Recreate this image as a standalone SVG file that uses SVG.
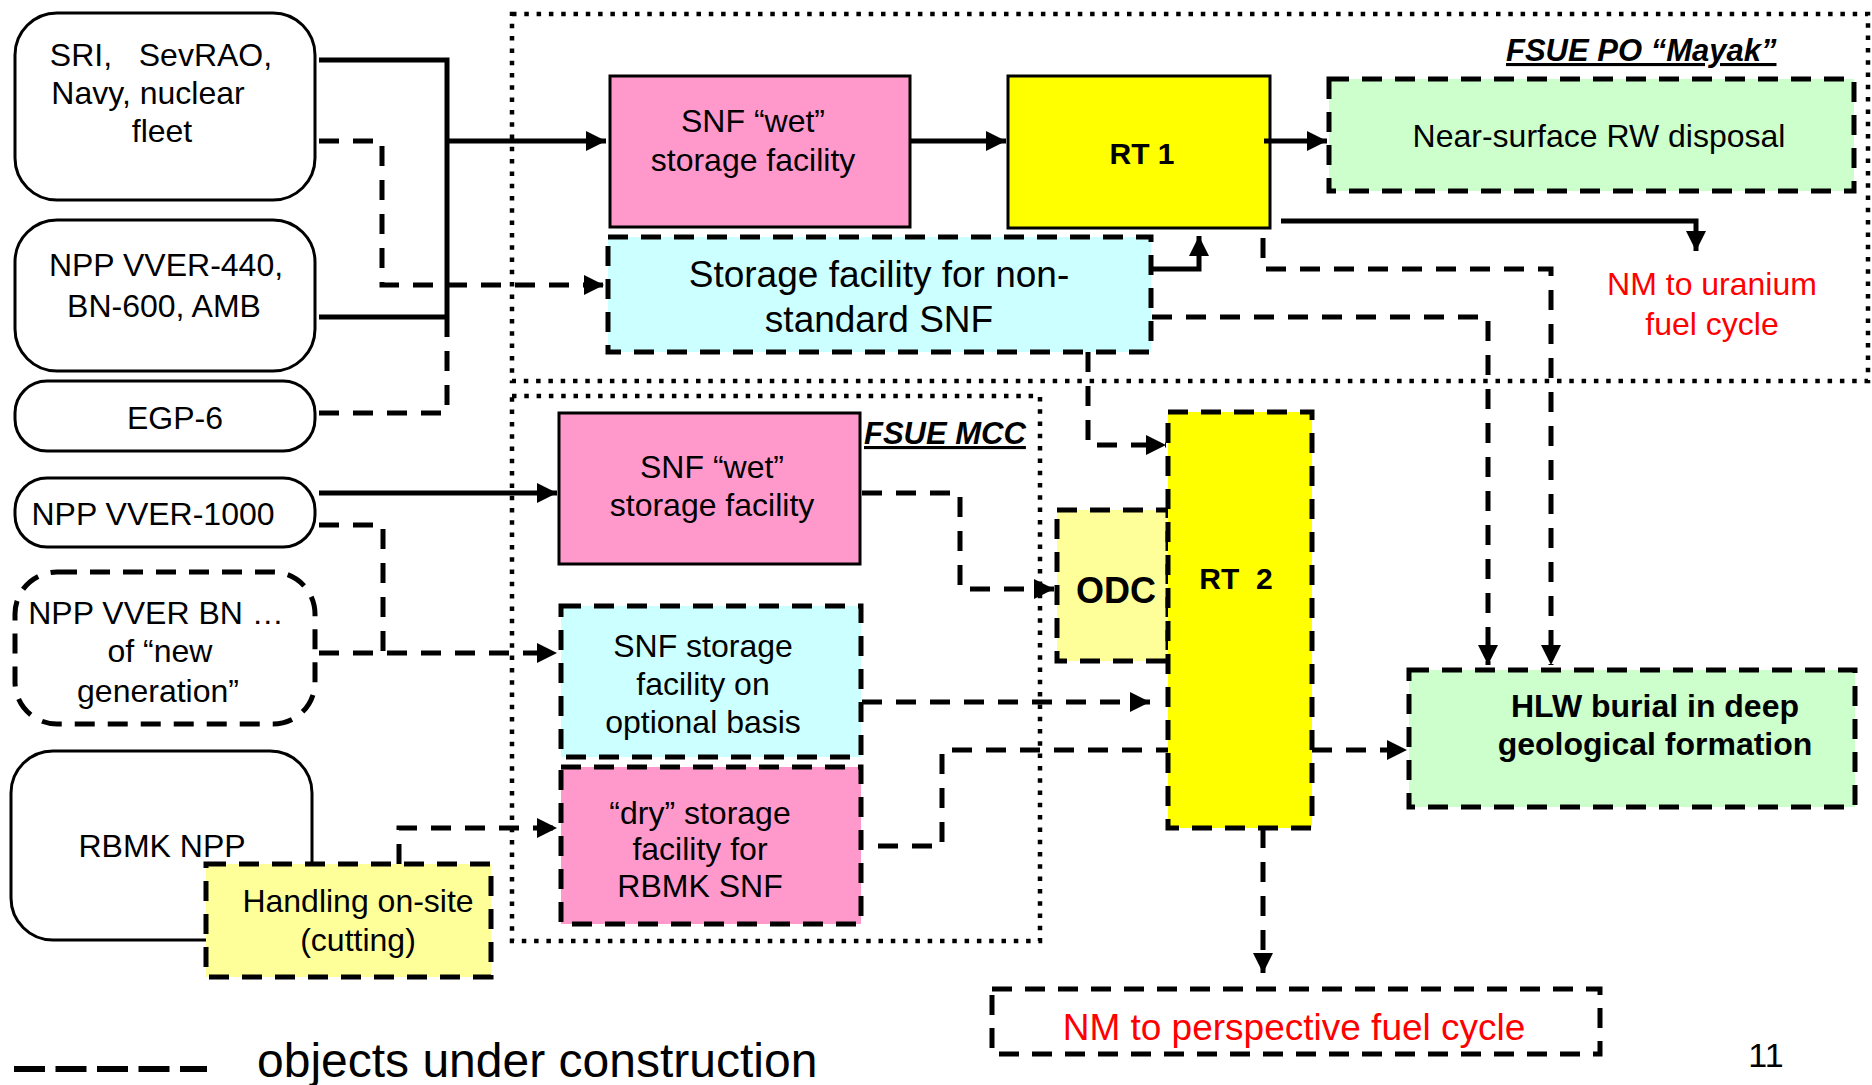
<svg xmlns="http://www.w3.org/2000/svg" width="1872" height="1085" viewBox="0 0 1872 1085">
<defs>
<marker id="ah" viewBox="0 0 10 10" refX="10" refY="5" markerWidth="4.4" markerHeight="4" markerUnits="strokeWidth" orient="auto">
<path d="M0,0 L10,5 L0,10 z" fill="#000"/>
</marker>
<style>
text{font-family:"Liberation Sans",Arial,sans-serif;font-size:32px;fill:#000;text-anchor:middle}
.b{font-weight:bold}
.red{fill:#FF0000}
.src{fill:#fff;stroke:#000;stroke-width:3}
.srcd{fill:#fff;stroke:#000;stroke-width:5;stroke-dasharray:20 13}
.solid{stroke:#000;stroke-width:3}
.dash{stroke:#000;stroke-width:5;stroke-dasharray:20 13}
.dot{fill:none;stroke:#000;stroke-width:4.5;stroke-dasharray:4.5 7.8}
.ln{fill:none;stroke:#000;stroke-width:5}
.dl{fill:none;stroke:#000;stroke-width:5;stroke-dasharray:20 14}
</style>
</defs>

<g id="mayak-zone">
<rect class="dot" x="512" y="14" width="1356" height="367"/>
<text class="b" x="1506" y="61" style="text-anchor:start;font-style:italic;font-size:31px" text-decoration="underline">FSUE PO “Mayak”</text>
</g>
<g id="mcc-zone">
<rect class="dot" x="512" y="396" width="528" height="545"/>
<text class="b" x="864" y="444" style="text-anchor:start;font-style:italic;font-size:31px" text-decoration="underline">FSUE MCC</text>
</g>

<g id="sri">
<rect class="src" x="15" y="13" width="300" height="187" rx="42"/>
<text x="161" y="66" xml:space="preserve">SRI,   SevRAO,</text>
<text x="148" y="104">Navy, nuclear</text>
<text x="162" y="142">fleet</text>
</g>
<g id="vver440">
<rect class="src" x="15" y="220" width="300" height="151" rx="42"/>
<text x="166" y="276">NPP VVER-440,</text>
<text x="164" y="317">BN-600, AMB</text>
</g>
<g id="egp6">
<rect class="src" x="15" y="381" width="300" height="70" rx="32"/>
<text x="175" y="429">EGP-6</text>
</g>
<g id="vver1000">
<rect class="src" x="15" y="478" width="300" height="69" rx="32"/>
<text x="153" y="525">NPP VVER-1000</text>
</g>
<g id="newgen">
<rect class="srcd" x="15" y="572" width="300" height="152" rx="42"/>
<text x="156" y="624">NPP VVER BN …</text>
<text x="160" y="662">of “new</text>
<text x="158" y="702">generation”</text>
</g>
<g id="rbmk">
<rect class="src" x="11" y="751" width="301" height="189" rx="42"/>
<text x="162" y="857">RBMK NPP</text>
</g>
<g id="handling">
<rect class="dash" x="206" y="864" width="285" height="113" fill="#FFFF99"/>
<text x="358" y="912">Handling on-site</text>
<text x="358" y="951">(cutting)</text>
</g>

<g id="mayak-wet">
<rect class="solid" x="610" y="76" width="300" height="151" fill="#FF99CC"/>
<text x="753" y="132">SNF “wet”</text>
<text x="753" y="171">storage facility</text>
</g>
<g id="nonstandard">
<rect class="dash" x="608" y="237" width="543" height="115" fill="#CCFFFF"/>
<text x="879" y="287" style="font-size:37px">Storage facility for non-</text>
<text x="879" y="332" style="font-size:37px">standard SNF</text>
</g>
<g id="rt1">
<rect class="solid" x="1008" y="76" width="262" height="152" fill="#FFFF00"/>
<text class="b" x="1142" y="164" style="font-size:30px">RT 1</text>
</g>
<g id="nearsurface">
<rect class="dash" x="1329" y="79" width="525" height="112" fill="#CCFFCC"/>
<text x="1599" y="147">Near-surface RW disposal</text>
</g>
<g id="nm-uranium">
<text class="red" x="1712" y="295">NM to uranium</text>
<text class="red" x="1712" y="335">fuel cycle</text>
</g>

<g id="mcc-wet">
<rect class="solid" x="559" y="413" width="301" height="151" fill="#FF99CC"/>
<text x="712" y="478">SNF “wet”</text>
<text x="712" y="516">storage facility</text>
</g>
<g id="optional">
<rect class="dash" x="561" y="606" width="300" height="151" fill="#CCFFFF"/>
<text x="703" y="657">SNF storage</text>
<text x="703" y="695">facility on</text>
<text x="703" y="733">optional basis</text>
</g>
<g id="dry">
<rect class="dash" x="561" y="767" width="300" height="157" fill="#FF99CC"/>
<text x="700" y="824">“dry” storage</text>
<text x="700" y="860">facility for</text>
<text x="700" y="897">RBMK SNF</text>
</g>
<g id="odc">
<rect class="dash" x="1057" y="510" width="111" height="151" fill="#FFFF99"/>
<text class="b" x="1116" y="603" style="font-size:36px">ODC</text>
</g>
<g id="rt2">
<rect class="dash" x="1168" y="412" width="144" height="416" fill="#FFFF00"/>
<text class="b" x="1236" y="589" style="font-size:30px" xml:space="preserve">RT  2</text>
</g>
<g id="hlw">
<rect class="dash" x="1409" y="670" width="446" height="137" fill="#CCFFCC"/>
<text class="b" x="1655" y="717">HLW burial in deep</text>
<text class="b" x="1655" y="755">geological formation</text>
</g>
<g id="nm-perspective">
<rect class="dash" x="992" y="989" width="608" height="65" fill="none"/>
<text class="red" x="1294" y="1040" style="font-size:37px">NM to perspective fuel cycle</text>
</g>

<g id="connectors">
<path class="ln" d="M319,60 H447 V317"/>
<path class="ln" d="M319,317 H447"/>
<path class="dl" d="M447,317 V415"/>
<path class="dl" d="M319,413 H447"/>
<path class="ln" d="M447,141 H606" marker-end="url(#ah)"/>
<path class="dl" d="M319,141 H382 V285 H604" marker-end="url(#ah)"/>
<path class="ln" d="M910,141 H1006" marker-end="url(#ah)"/>
<path class="ln" d="M1264,141 H1327" marker-end="url(#ah)"/>
<path class="ln" d="M1281,221 H1696 V251" marker-end="url(#ah)"/>
<path class="ln" d="M1152,269 H1199 V236" marker-end="url(#ah)"/>
<path class="dl" d="M1263,238 V269 H1551 V665" marker-end="url(#ah)"/>
<path class="dl" d="M1152,317 H1488 V665" marker-end="url(#ah)"/>
<path class="dl" d="M1088,352 V445 H1166" marker-end="url(#ah)"/>
<path class="ln" d="M319,493 H557" marker-end="url(#ah)"/>
<path class="dl" d="M319,525 H383 V653"/>
<path class="dl" d="M319,653 H557" marker-end="url(#ah)"/>
<path class="dl" d="M399,864 V828 H557" marker-end="url(#ah)"/>
<path class="dl" d="M862,493 H960 V589 H1054" marker-end="url(#ah)"/>
<path class="dl" d="M862,702 H1150" marker-end="url(#ah)"/>
<path class="dl" d="M878,846 H942 V750 H1168"/>
<path class="dl" d="M1312,750 H1407" marker-end="url(#ah)"/>
<path class="dl" d="M1263,828 V973" marker-end="url(#ah)"/>
</g>

<g id="legend">
<path d="M14,1069 H207" style="fill:none;stroke:#000;stroke-width:6;stroke-dasharray:31 10.5"/>
<text x="257" y="1077" style="text-anchor:start;font-size:48px">objects under construction</text>
<text x="1766" y="1067" style="font-size:34px">11</text>
</g>
</svg>
